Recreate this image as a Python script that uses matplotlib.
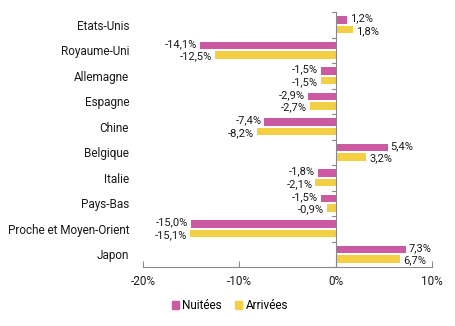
import matplotlib
matplotlib.use("Agg")
import matplotlib.pyplot as plt
import numpy as np
from matplotlib.patches import Patch

categories = ["Etats-Unis", "Royaume-Uni", "Allemagne", "Espagne", "Chine",
              "Belgique", "Italie", "Pays-Bas", "Proche et Moyen-Orient", "Japon"]
nuitees = [1.2, -14.1, -1.5, -2.9, -7.4, 5.4, -1.8, -1.5, -15.0, 7.3]
arrivees = [1.8, -12.5, -1.5, -2.7, -8.2, 3.2, -2.1, -0.9, -15.1, 6.7]
xticks = [-20, -10, 0, 10]
xticklabels = ["-20%", "-10%", "0%", "10%"]

pink = "#cc5aa3"
yellow = "#f3cf45"
txt = "#1a1a1a"

plt.rcParams['font.family'] = ['Roboto', 'DejaVu Sans']
fig = plt.figure(figsize=(4.56, 3.26), dpi=100)
ax = fig.add_axes([0.3136, 0.181, 0.6334, 0.782])

y = np.arange(len(categories))
h = 0.30
off = 0.19
ax.barh(y - off, nuitees, height=h, color=pink, zorder=3)
ax.barh(y + off, arrivees, height=h, color=yellow, zorder=3)

def fmt(v):
    return ("%.1f%%" % v).replace(".", ",")

fs = 8
for i in range(len(categories)):
    for v, yy in ((nuitees[i], y[i] - off - 0.06), (arrivees[i], y[i] + off + 0.06)):
        if v >= 0:
            ax.text(v + 0.3, yy, fmt(v), ha="left", va="center", fontsize=fs, color=txt)
        else:
            ax.text(v - 0.3, yy, fmt(v), ha="right", va="center", fontsize=fs, color=txt)

ax.set_xlim(-20, 10)
ax.set_ylim(len(categories) - 0.5, -0.5)
ax.set_xticks(xticks)
ax.set_xticklabels(xticklabels, fontsize=8.5, color=txt)
ax.set_yticks(y)
ax.set_yticklabels(categories, fontsize=8.5, color=txt)
ax.tick_params(axis="y", length=0, pad=10)
ax.tick_params(axis="x", length=4, color="#888888", direction="in", pad=6)

for s in ["top", "right", "left"]:
    ax.spines[s].set_visible(False)
ax.spines["bottom"].set_color("#888888")
ax.spines["bottom"].set_linewidth(0.8)
ax.axvline(0, color="#888888", lw=0.8, zorder=4)
for b in np.arange(-0.5, len(categories), 1.0):
    ax.plot([-0.4, 0], [b, b], color="#888888", lw=0.8, zorder=4, clip_on=False)

handles = [Patch(color=pink, label="Nuitées"), Patch(color=yellow, label="Arrivées")]
fig.legend(handles=handles, loc="center", bbox_to_anchor=(0.504, 0.062), ncol=2,
           frameon=False, fontsize=8.5, handlelength=0.6, handleheight=0.6,
           handletextpad=0.3, columnspacing=1.1)

fig.savefig("out.png", dpi=100)
